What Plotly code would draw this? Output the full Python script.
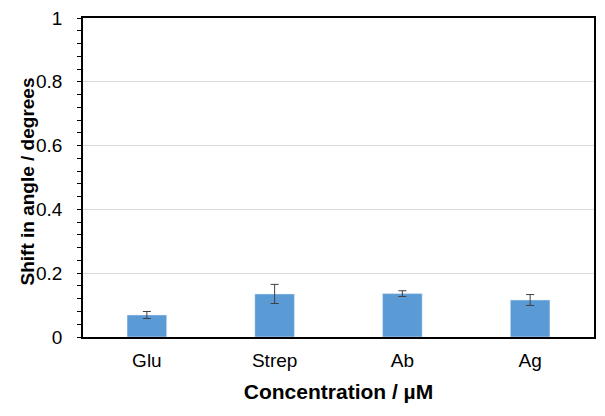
import plotly.graph_objects as go

# values
categories = ["Glu", "Strep", "Ab", "Ag"]
shift = [0.069, 0.135, 0.136, 0.116]
shift_err = [0.011, 0.030, 0.009, 0.017]

fig = go.Figure()
fig.add_trace(go.Bar(x=categories, y=shift, marker_color="#5B9BD5",
                     error_y=dict(type="data", array=shift_err, visible=True,
                                  color="#404040", thickness=1, width=4)))

# page body has an 8px margin, so the figure is drawn 8px smaller
fig.update_layout(width=597, height=408, plot_bgcolor="white", paper_bgcolor="white",
                  margin=dict(l=75, r=11, t=10, b=79), bargap=0.69, showlegend=False,
                  font=dict(family="Liberation Sans, Arial, sans-serif", size=19, color="black"))
fig.update_xaxes(showline=True, linecolor="black", linewidth=1.5, mirror=True, automargin=False,
                 ticks="", ticklabelstandoff=5,
                 title=dict(text="<b>Concentration / µM</b>", standoff=15,
                            font=dict(size=21, family="Liberation Sans, Arial, sans-serif")))
fig.update_yaxes(range=[0, 1], dtick=0.2, tickformat="~g", showline=True, linecolor="black",
                 linewidth=1.5, mirror=True, ticks="outside", ticklen=4, tickcolor="black",
                 automargin=False, ticklabelstandoff=11, ticklabeloverflow="allow",
                 showgrid=True, gridcolor="#D9D9D9", zeroline=False,
                 minor=dict(dtick=0.04, ticks="outside", ticklen=4, tickcolor="black", showgrid=False))

# y title placed as an annotation so it sits where the reference has it
fig.add_annotation(text="<b>Shift in angle / degrees</b>", textangle=-90, showarrow=False,
                   xref="paper", yref="paper", x=0, y=0.5, xanchor="center", yanchor="middle",
                   xshift=-56, yshift=-4, font=dict(size=19))

fig.write_html("out.html")
